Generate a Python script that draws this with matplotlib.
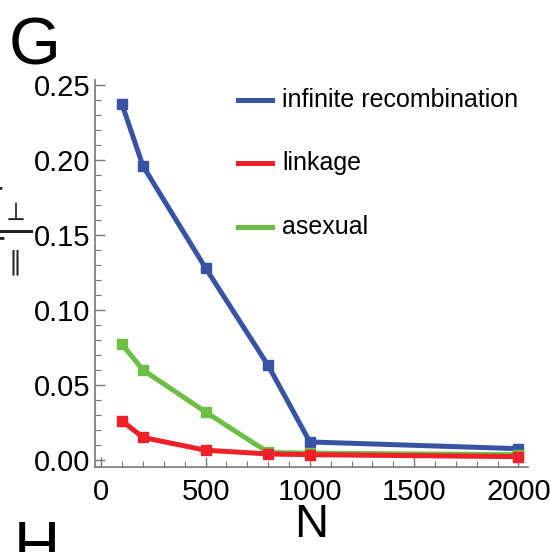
import matplotlib.pyplot as plt
import numpy as np

plt.rcParams['font.family'] = ['Liberation Sans', 'DejaVu Sans']

# data
N = [100, 200, 500, 800, 1000, 2000]
infinite = [0.237, 0.196, 0.128, 0.063, 0.012, 0.0075]
infinite_err = [0.001, 0.002, 0.001, 0.001, 0.001, 0.001]
asexual = [0.077, 0.060, 0.032, 0.005, 0.0045, 0.0035]
asexual_err = [0.003, 0.001, 0.001, 0.0005, 0.0005, 0.0005]
linkage = [0.026, 0.015, 0.0065, 0.004, 0.0035, 0.0022]
linkage_err = [0.001, 0.001, 0.0005, 0.0005, 0.0005, 0.0005]

labels = ['infinite recombination', 'linkage', 'asexual']
colors = ['#3953a4', '#ee2028', '#6cbe45']

fig = plt.figure(figsize=(5.51, 5.52), dpi=100)
ax = fig.add_axes([0.172, 0.154, 0.786, 0.701])

for y, e, c in [(infinite, infinite_err, colors[0]),
                (asexual, asexual_err, colors[2]),
                (linkage, linkage_err, colors[1])]:
    ax.plot(N, y, color=c, lw=3.6, solid_capstyle='butt')
    ax.errorbar(N, y, yerr=e, fmt='s', color=c, ms=6.5, elinewidth=7, capsize=0)

ax.set_xlim(-31, 2045)
ax.set_ylim(-0.0047, 0.2533)
ax.set_xticks([0, 500, 1000, 1500, 2000])
ax.set_xticks(np.arange(0, 2001, 100), minor=True)
ax.set_yticks([0.00, 0.05, 0.10, 0.15, 0.20, 0.25])
ax.set_yticks(np.arange(0, 0.251, 0.01), minor=True)
ax.set_yticklabels(['0.00', '0.05', '0.10', '0.15', '0.20', '0.25'])

for s in ['top', 'right']:
    ax.spines[s].set_visible(False)
for s in ['left', 'bottom']:
    ax.spines[s].set_color('#777777')
    ax.spines[s].set_linewidth(1.2)
ax.tick_params(which='major', direction='in', length=7, width=1, color='#777777',
               labelsize=21)
ax.tick_params(axis='y', which='major', pad=3)
ax.tick_params(axis='x', which='major', pad=8)
ax.tick_params(which='minor', direction='in', length=4, width=0.8, color='#777777')

ax.set_xlabel('N', fontsize=34, labelpad=-2)

# legend drawn by hand next to the curves
for i, (lab, c) in enumerate(zip(labels, colors)):
    ly = 0.819 - i * 0.115
    fig.lines.append(plt.Line2D([0.432, 0.493], [ly, ly], color=c, lw=3.6,
                                transform=fig.transFigure))
    fig.text(0.512, ly, lab, fontsize=18, va='center', ha='left')

fig.text(0.015, 0.97, 'G', fontsize=48, va='top', ha='left')
fig.text(0.025, -0.05, 'H', fontsize=46, va='bottom', ha='left')
fig.text(0.012, 0.58, r'$\frac{\Gamma_{\perp}}{\Gamma_{\parallel}}$', fontsize=38,
         va='center', ha='center', color='#222222')

fig.savefig('out.png', dpi=100)
